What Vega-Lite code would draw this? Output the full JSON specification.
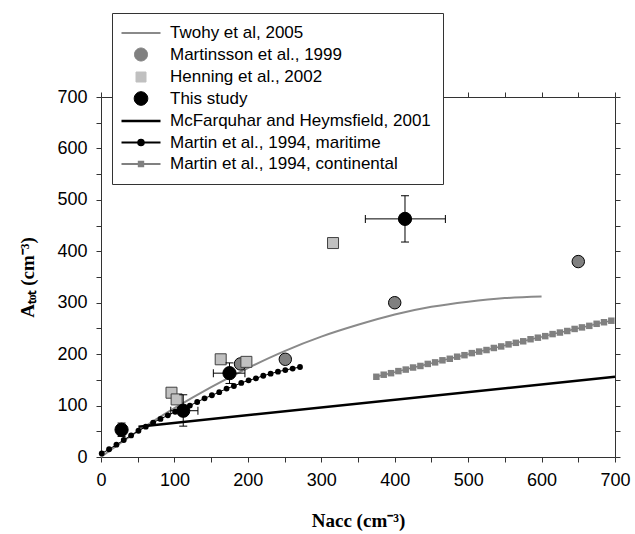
{
  "$schema": "https://vega.github.io/schema/vega-lite/v6.json",
  "background": "white",
  "width": 514,
  "height": 360,
  "autosize": {"type": "none"},
  "padding": {"left": 101, "top": 97, "right": 20, "bottom": 77},
  "config": {
    "view": {"stroke": null},
    "axis": {
      "grid": false,
      "domainColor": "#333",
      "tickColor": "#333",
      "tickSize": 5,
      "labelFont": "Liberation Sans",
      "labelFontSize": 18,
      "labelColor": "black",
      "labelFlush": false,
      "labelOverlap": false,
      "titleFont": "Liberation Serif",
      "titleFontSize": 19,
      "titleFontWeight": "bold",
      "titleColor": "black"
    }
  },
  "datasets": {
    "lines": [
      {"series": "Twohy et al, 2005", "N": 0, "A": 0},
      {"series": "Twohy et al, 2005", "N": 50, "A": 50},
      {"series": "Twohy et al, 2005", "N": 100, "A": 95},
      {"series": "Twohy et al, 2005", "N": 150, "A": 136},
      {"series": "Twohy et al, 2005", "N": 200, "A": 173},
      {"series": "Twohy et al, 2005", "N": 250, "A": 206},
      {"series": "Twohy et al, 2005", "N": 300, "A": 234},
      {"series": "Twohy et al, 2005", "N": 350, "A": 257},
      {"series": "Twohy et al, 2005", "N": 400, "A": 277},
      {"series": "Twohy et al, 2005", "N": 450, "A": 292},
      {"series": "Twohy et al, 2005", "N": 500, "A": 302},
      {"series": "Twohy et al, 2005", "N": 550, "A": 309},
      {"series": "Twohy et al, 2005", "N": 600, "A": 312},
      {"series": "McFarquhar and Heymsfield, 2001", "N": 51, "A": 59},
      {"series": "McFarquhar and Heymsfield, 2001", "N": 700, "A": 156},
      {"series": "Martin et al., 1994, maritime", "N": 1, "A": 7},
      {"series": "Martin et al., 1994, maritime", "N": 11, "A": 15},
      {"series": "Martin et al., 1994, maritime", "N": 21, "A": 24},
      {"series": "Martin et al., 1994, maritime", "N": 31, "A": 33},
      {"series": "Martin et al., 1994, maritime", "N": 41, "A": 42},
      {"series": "Martin et al., 1994, maritime", "N": 51, "A": 51},
      {"series": "Martin et al., 1994, maritime", "N": 61, "A": 59},
      {"series": "Martin et al., 1994, maritime", "N": 71, "A": 67},
      {"series": "Martin et al., 1994, maritime", "N": 81, "A": 74},
      {"series": "Martin et al., 1994, maritime", "N": 91, "A": 81},
      {"series": "Martin et al., 1994, maritime", "N": 101, "A": 88},
      {"series": "Martin et al., 1994, maritime", "N": 111, "A": 94},
      {"series": "Martin et al., 1994, maritime", "N": 121, "A": 100},
      {"series": "Martin et al., 1994, maritime", "N": 131, "A": 107},
      {"series": "Martin et al., 1994, maritime", "N": 141, "A": 114},
      {"series": "Martin et al., 1994, maritime", "N": 151, "A": 120},
      {"series": "Martin et al., 1994, maritime", "N": 161, "A": 126},
      {"series": "Martin et al., 1994, maritime", "N": 171, "A": 133},
      {"series": "Martin et al., 1994, maritime", "N": 181, "A": 138},
      {"series": "Martin et al., 1994, maritime", "N": 191, "A": 144},
      {"series": "Martin et al., 1994, maritime", "N": 201, "A": 149},
      {"series": "Martin et al., 1994, maritime", "N": 211, "A": 153},
      {"series": "Martin et al., 1994, maritime", "N": 221, "A": 158},
      {"series": "Martin et al., 1994, maritime", "N": 231, "A": 162},
      {"series": "Martin et al., 1994, maritime", "N": 241, "A": 166},
      {"series": "Martin et al., 1994, maritime", "N": 251, "A": 169},
      {"series": "Martin et al., 1994, maritime", "N": 261, "A": 172},
      {"series": "Martin et al., 1994, maritime", "N": 271, "A": 175},
      {"series": "Martin et al., 1994, continental", "N": 375, "A": 156},
      {"series": "Martin et al., 1994, continental", "N": 385, "A": 160},
      {"series": "Martin et al., 1994, continental", "N": 395, "A": 163},
      {"series": "Martin et al., 1994, continental", "N": 405, "A": 167},
      {"series": "Martin et al., 1994, continental", "N": 415, "A": 170},
      {"series": "Martin et al., 1994, continental", "N": 425, "A": 174},
      {"series": "Martin et al., 1994, continental", "N": 435, "A": 177},
      {"series": "Martin et al., 1994, continental", "N": 445, "A": 181},
      {"series": "Martin et al., 1994, continental", "N": 455, "A": 184},
      {"series": "Martin et al., 1994, continental", "N": 465, "A": 188},
      {"series": "Martin et al., 1994, continental", "N": 475, "A": 191},
      {"series": "Martin et al., 1994, continental", "N": 485, "A": 195},
      {"series": "Martin et al., 1994, continental", "N": 495, "A": 198},
      {"series": "Martin et al., 1994, continental", "N": 505, "A": 202},
      {"series": "Martin et al., 1994, continental", "N": 515, "A": 205},
      {"series": "Martin et al., 1994, continental", "N": 525, "A": 208},
      {"series": "Martin et al., 1994, continental", "N": 535, "A": 212},
      {"series": "Martin et al., 1994, continental", "N": 545, "A": 215},
      {"series": "Martin et al., 1994, continental", "N": 555, "A": 219},
      {"series": "Martin et al., 1994, continental", "N": 565, "A": 222},
      {"series": "Martin et al., 1994, continental", "N": 575, "A": 225},
      {"series": "Martin et al., 1994, continental", "N": 585, "A": 229},
      {"series": "Martin et al., 1994, continental", "N": 595, "A": 232},
      {"series": "Martin et al., 1994, continental", "N": 605, "A": 235},
      {"series": "Martin et al., 1994, continental", "N": 615, "A": 239},
      {"series": "Martin et al., 1994, continental", "N": 625, "A": 242},
      {"series": "Martin et al., 1994, continental", "N": 635, "A": 245},
      {"series": "Martin et al., 1994, continental", "N": 645, "A": 249},
      {"series": "Martin et al., 1994, continental", "N": 655, "A": 252},
      {"series": "Martin et al., 1994, continental", "N": 665, "A": 255},
      {"series": "Martin et al., 1994, continental", "N": 675, "A": 259},
      {"series": "Martin et al., 1994, continental", "N": 685, "A": 262},
      {"series": "Martin et al., 1994, continental", "N": 695, "A": 265}
    ],
    "points": [
      {"series": "Martinsson et al., 1999", "N": 190, "A": 181},
      {"series": "Martinsson et al., 1999", "N": 251, "A": 190},
      {"series": "Martinsson et al., 1999", "N": 400, "A": 300},
      {"series": "Martinsson et al., 1999", "N": 650, "A": 380},
      {"series": "Henning et al., 2002", "N": 96, "A": 125},
      {"series": "Henning et al., 2002", "N": 103, "A": 112},
      {"series": "Henning et al., 2002", "N": 163, "A": 190},
      {"series": "Henning et al., 2002", "N": 198, "A": 185},
      {"series": "Henning et al., 2002", "N": 316, "A": 416},
      {"series": "This study", "N": 28, "A": 53},
      {"series": "This study", "N": 112, "A": 90},
      {"series": "This study", "N": 175, "A": 163},
      {"series": "This study", "N": 414, "A": 463}
    ],
    "errors": [
      {"N": 28, "A": 53, "Nlo": 28, "Nhi": 28, "Alo": 40, "Ahi": 66},
      {"N": 112, "A": 90, "Nlo": 95, "Nhi": 132, "Alo": 60, "Ahi": 121},
      {"N": 175, "A": 163, "Nlo": 153, "Nhi": 196, "Alo": 143, "Ahi": 183},
      {"N": 414, "A": 463, "Nlo": 360, "Nhi": 469, "Alo": 418, "Ahi": 508}
    ]
  },
  "resolve": {"axis": {"x": "independent", "y": "independent"}},
  "layer": [
    {
      "data": {"name": "lines"},
      "transform": [{"filter": "datum.series === 'Twohy et al, 2005'"}],
      "mark": {"type": "line", "strokeWidth": 2, "interpolate": "monotone"},
      "encoding": {
        "x": {
          "field": "N", "type": "quantitative",
          "scale": {"domain": [0, 700], "nice": false, "zero": false},
          "axis": {
            "orient": "bottom",
            "values": [0, 50, 100, 150, 200, 250, 300, 350, 400, 450, 500, 550, 600, 650, 700],
            "labelExpr": "datum.value % 100 === 0 ? datum.label : ''",
            "labelPadding": 9,
            "title": "Nacc (cm⁻³)",
            "titleX": 257,
            "titleY": 63,
            "titleBaseline": "middle"
          }
        },
        "y": {
          "field": "A", "type": "quantitative",
          "scale": {"domain": [0, 700], "nice": false, "zero": false},
          "axis": {
            "orient": "left",
            "values": [0, 50, 100, 150, 200, 250, 300, 350, 400, 450, 500, 550, 600, 650, 700],
            "labelExpr": "datum.value % 100 === 0 ? datum.label : ''",
            "labelPadding": 9,
            "title": "Aₜₒₜ (cm⁻³)",
            "titleX": -74,
            "titleY": 180,
            "titleBaseline": "middle"
          }
        },
        "color": {
          "field": "series", "type": "nominal",
          "scale": {
            "domain": ["Twohy et al, 2005", "Martinsson et al., 1999", "Henning et al., 2002", "This study", "McFarquhar and Heymsfield, 2001", "Martin et al., 1994, maritime", "Martin et al., 1994, continental"],
            "range": ["#8a8a8a", "#808080", "#c0c0c0", "black", "black", "black", "#808080"]
          },
          "legend": {
            "orient": "none",
            "legendX": 11,
            "legendY": -84,
            "title": null,
            "zindex": 1,
            "fillColor": "white",
            "strokeColor": "#333",
            "padding": 12,
            "labelFont": "Liberation Sans",
            "labelFontSize": 17,
            "labelColor": "black",
            "labelLimit": 400,
            "symbolSize": 400,
            "rowPadding": 4.5,
            "symbolOpacity": 1,
            "encode": {
              "symbols": {
                "update": {
                  "x": {"value": 17},
                  "y": {"value": 8},
                  "shape": {"signal": "['M-1.95,0L1.95,0', 'M-0.65,0A0.65,0.65,0,1,1,0.65,0A0.65,0.65,0,1,1,-0.65,0Z', 'M-0.5,-0.5L0.5,-0.5L0.5,0.5L-0.5,0.5Z', 'M-0.68,0A0.68,0.68,0,1,1,0.68,0A0.68,0.68,0,1,1,-0.68,0Z', 'M-1.95,0L1.95,0', 'M-1.95,0L1.95,0M-0.28,0A0.28,0.28,0,1,1,0.28,0A0.28,0.28,0,1,1,-0.28,0Z', 'M-1.95,0L1.95,0M-0.22,-0.22L0.22,-0.22L0.22,0.22L-0.22,0.22Z'][datum.index]"},
                  "fill": {"signal": "['transparent', '#808080', '#c0c0c0', 'black', 'transparent', 'black', '#808080'][datum.index]"},
                  "stroke": {"signal": "['#808080', 'black', '#404040', 'black', 'black', '#808080', '#808080'][datum.index]"},
                  "strokeWidth": {"signal": "[2, 1, 1, 1, 2.5, 2, 2][datum.index]"},
                  "size": {"value": 400},
                  "opacity": {"value": 1},
                  "fillOpacity": {"value": 1},
                  "strokeOpacity": {"value": 1}
                }
              },
              "labels": {
                "update": {
                  "x": {"value": 46},
                  "y": {"value": 8},
                  "baseline": {"value": "middle"}
                }
              }
            }
          }
        }
      }
    },
    {
      "data": {"name": "lines"},
      "transform": [{"filter": "datum.series === 'McFarquhar and Heymsfield, 2001'"}],
      "mark": {"type": "line", "strokeWidth": 2.5},
      "encoding": {
        "x": {
          "field": "N", "type": "quantitative",
          "axis": {
            "orient": "top",
            "values": [0, 50, 100, 150, 200, 250, 300, 350, 400, 450, 500, 550, 600, 650, 700],
            "labels": false,
            "title": null
          }
        },
        "y": {
          "field": "A", "type": "quantitative",
          "axis": {
            "orient": "right",
            "values": [0, 50, 100, 150, 200, 250, 300, 350, 400, 450, 500, 550, 600, 650, 700],
            "labels": false,
            "title": null
          }
        },
        "color": {"field": "series", "type": "nominal"}
      }
    },
    {
      "data": {"name": "lines"},
      "transform": [{"filter": "datum.series === 'Martin et al., 1994, maritime'"}],
      "mark": {"type": "line", "strokeWidth": 1, "point": {"filled": true, "size": 34, "opacity": 1}},
      "encoding": {
        "x": {"field": "N", "type": "quantitative", "axis": null},
        "y": {"field": "A", "type": "quantitative", "axis": null},
        "color": {"field": "series", "type": "nominal"}
      }
    },
    {
      "data": {"name": "lines"},
      "transform": [{"filter": "datum.series === 'Martin et al., 1994, continental'"}],
      "mark": {"type": "line", "strokeWidth": 1.5, "point": {"filled": true, "shape": "square", "size": 42, "opacity": 1}},
      "encoding": {
        "x": {"field": "N", "type": "quantitative", "axis": null},
        "y": {"field": "A", "type": "quantitative", "axis": null},
        "color": {"field": "series", "type": "nominal"}
      }
    },
    {
      "data": {"name": "points"},
      "transform": [{"filter": "datum.series === 'Martinsson et al., 1999'"}],
      "mark": {"type": "point", "shape": "circle", "filled": true, "size": 155, "stroke": "black", "strokeWidth": 1, "opacity": 1},
      "encoding": {
        "x": {"field": "N", "type": "quantitative", "axis": null},
        "y": {"field": "A", "type": "quantitative", "axis": null},
        "color": {"field": "series", "type": "nominal"}
      }
    },
    {
      "data": {"name": "points"},
      "transform": [{"filter": "datum.series === 'Henning et al., 2002'"}],
      "mark": {"type": "point", "shape": "square", "filled": true, "size": 121, "stroke": "#404040", "strokeWidth": 1, "opacity": 1},
      "encoding": {
        "x": {"field": "N", "type": "quantitative", "axis": null},
        "y": {"field": "A", "type": "quantitative", "axis": null},
        "color": {"field": "series", "type": "nominal"}
      }
    },
    {
      "data": {"name": "errors"},
      "mark": {"type": "rule", "color": "black", "strokeWidth": 1},
      "encoding": {
        "x": {"field": "Nlo", "type": "quantitative", "axis": null},
        "x2": {"field": "Nhi"},
        "y": {"field": "A", "type": "quantitative", "axis": null}
      }
    },
    {
      "data": {"name": "errors"},
      "mark": {"type": "rule", "color": "black", "strokeWidth": 1},
      "encoding": {
        "x": {"field": "N", "type": "quantitative", "axis": null},
        "y": {"field": "Alo", "type": "quantitative", "axis": null},
        "y2": {"field": "Ahi"}
      }
    },
    {
      "data": {"name": "errors"},
      "mark": {"type": "tick", "orient": "vertical", "color": "black", "size": 8, "thickness": 1, "opacity": 1},
      "encoding": {
        "x": {"field": "Nlo", "type": "quantitative", "axis": null},
        "y": {"field": "A", "type": "quantitative", "axis": null}
      }
    },
    {
      "data": {"name": "errors"},
      "mark": {"type": "tick", "orient": "vertical", "color": "black", "size": 8, "thickness": 1, "opacity": 1},
      "encoding": {
        "x": {"field": "Nhi", "type": "quantitative", "axis": null},
        "y": {"field": "A", "type": "quantitative", "axis": null}
      }
    },
    {
      "data": {"name": "errors"},
      "mark": {"type": "tick", "orient": "horizontal", "color": "black", "size": 8, "thickness": 1, "opacity": 1},
      "encoding": {
        "x": {"field": "N", "type": "quantitative", "axis": null},
        "y": {"field": "Alo", "type": "quantitative", "axis": null}
      }
    },
    {
      "data": {"name": "errors"},
      "mark": {"type": "tick", "orient": "horizontal", "color": "black", "size": 8, "thickness": 1, "opacity": 1},
      "encoding": {
        "x": {"field": "N", "type": "quantitative", "axis": null},
        "y": {"field": "Ahi", "type": "quantitative", "axis": null}
      }
    },
    {
      "data": {"name": "points"},
      "transform": [{"filter": "datum.series === 'This study'"}],
      "mark": {"type": "point", "shape": "circle", "filled": true, "size": 175, "stroke": "black", "strokeWidth": 1, "opacity": 1},
      "encoding": {
        "x": {"field": "N", "type": "quantitative", "axis": null},
        "y": {"field": "A", "type": "quantitative", "axis": null},
        "color": {"field": "series", "type": "nominal"}
      }
    }
  ]
}
